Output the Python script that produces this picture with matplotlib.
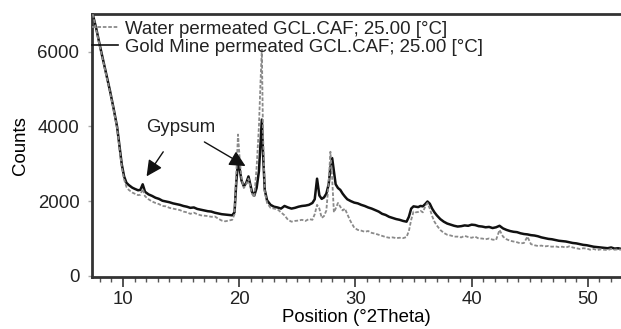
import matplotlib.pyplot as plt
from matplotlib.ticker import MultipleLocator

plt.rcParams['font.family'] = ['Liberation Sans', 'DejaVu Sans']

# -------------------------- data --------------------------
two_theta = [
    7.4, 7.7, 8.0, 8.3, 8.6, 8.9, 9.2,
    9.5, 9.7, 9.9, 10.1, 10.3, 10.5, 10.8,
    11.0, 11.3, 11.5, 11.7, 11.9, 12.2, 12.5,
    12.8, 13.1, 13.4, 13.7, 14.0, 14.3, 14.6,
    14.9, 15.2, 15.5, 15.8, 16.1, 16.4, 16.7,
    17.0, 17.3, 17.6, 17.9, 18.2, 18.5, 18.8,
    19.1, 19.4, 19.6, 19.75, 19.9, 20.05, 20.2,
    20.4, 20.6, 20.8, 20.95, 21.1, 21.3, 21.5,
    21.7, 21.85, 21.95, 22.05, 22.2, 22.4, 22.7,
    23.0, 23.3, 23.6, 23.9, 24.2, 24.5, 24.8,
    25.1, 25.4, 25.7, 26.0, 26.3, 26.5, 26.7,
    26.9, 27.1, 27.3, 27.5, 27.7, 27.85, 28.0,
    28.15, 28.3, 28.5, 28.7, 28.9, 29.1, 29.3,
    29.6, 29.9, 30.2, 30.5, 30.8, 31.1, 31.4,
    31.7, 32.0, 32.3, 32.6, 32.9, 33.2, 33.5,
    33.8, 34.1, 34.4, 34.6, 34.8, 35.0, 35.2,
    35.4, 35.6, 35.8, 36.0, 36.2, 36.4, 36.6,
    36.8, 37.0, 37.3, 37.6, 37.9, 38.2, 38.5,
    38.8, 39.1, 39.4, 39.7, 40.0, 40.3, 40.6,
    40.9, 41.2, 41.5, 41.8, 42.1, 42.4, 42.7,
    43.0, 43.3, 43.6, 43.9, 44.2, 44.5, 44.8,
    45.1, 45.4, 45.7, 46.0, 46.3, 46.6, 46.9,
    47.2, 47.5, 47.8, 48.1, 48.4, 48.7, 49.0,
    49.3, 49.6, 49.9, 50.2, 50.5, 50.8, 51.1,
    51.4, 51.7, 52.0, 52.3, 52.6, 52.9,
]

# Gold Mine permeated GCL (solid black)
counts_gold = [
    7000, 6620, 6180, 5760, 5330, 4930, 4470,
    3980, 3470, 2980, 2660, 2490, 2430, 2360,
    2330, 2290, 2300, 2450, 2250, 2180, 2140,
    2090, 2060, 2010, 1990, 1970, 1940, 1920,
    1900, 1870, 1850, 1820, 1830, 1790, 1770,
    1750, 1730, 1720, 1690, 1670, 1650, 1640,
    1630, 1620, 1700, 2500, 3050, 2850, 2550,
    2400, 2480, 2660, 2450, 2250, 2150, 2350,
    2800, 3600, 4180, 3300, 2300, 2020, 1900,
    1850, 1830, 1800, 1870, 1830, 1800, 1820,
    1850, 1870, 1880, 1900, 1950, 2050, 2600,
    2150, 2060, 2100, 2200, 2450, 2900, 3150,
    2800, 2450, 2350, 2300, 2200, 2120, 2050,
    2000, 1960, 1940, 1900, 1870, 1830, 1800,
    1760, 1720, 1660, 1630, 1580, 1550, 1520,
    1500, 1470, 1450, 1580, 1800, 1860, 1850,
    1840, 1870, 1860, 1920, 1990, 1930, 1800,
    1700, 1620, 1520, 1450, 1400, 1370, 1340,
    1320, 1330, 1350, 1340, 1370, 1360, 1330,
    1320, 1300, 1310, 1280, 1300, 1340, 1270,
    1230, 1200, 1180, 1170, 1140, 1120, 1110,
    1090, 1080, 1060, 1030, 1010, 990, 980,
    960, 940, 930, 920, 900, 880, 870,
    850, 830, 820, 800, 780, 770, 760,
    750, 740, 760, 730, 740, 720,
]

# Water permeated GCL (dashed grey)
counts_water = [
    7000, 6600, 6150, 5740, 5310, 4900, 4440,
    3950, 3420, 2920, 2580, 2380, 2300, 2230,
    2200, 2160, 2170, 2330, 2130, 2050, 1990,
    1950, 1920, 1870, 1860, 1820, 1800, 1780,
    1760, 1720, 1700, 1660, 1690, 1650, 1620,
    1610, 1600, 1580, 1590, 1530, 1480, 1460,
    1480, 1500, 1650, 2700, 3780, 3100, 2600,
    2350, 2450, 2600, 2400, 2200, 2100, 2900,
    4000, 5300, 6050, 3800, 2250, 1950, 1820,
    1800, 1780, 1700, 1620, 1500, 1450, 1470,
    1480, 1500, 1470, 1520, 1500, 1650, 1900,
    1800, 1550, 1600, 1750, 2500, 3320, 2600,
    1700, 1800, 1950, 1850, 1750, 1800, 1650,
    1450, 1290, 1230, 1210, 1180, 1200, 1150,
    1130, 1100, 1070, 1040, 1020, 1030, 1010,
    1020, 1010, 1040, 1200, 1500, 1720, 1700,
    1710, 1740, 1700, 1850, 1950, 1800, 1600,
    1450, 1350, 1230, 1150, 1100, 1080, 1050,
    1050, 1030, 1070, 1040, 1020, 1050, 1000,
    1000, 980, 1000, 970, 960, 1230, 1050,
    980, 940, 920, 900, 870, 880, 1050,
    850, 820, 800, 810, 790, 800, 780,
    790, 770, 780, 760, 790, 760, 740,
    720, 740, 730, 700, 720, 690, 710,
    700, 690, 720, 700, 710, 700,
]

series_labels = ['Water permeated GCL.CAF; 25.00 [°C]',
                 'Gold Mine permeated GCL.CAF; 25.00 [°C]']

# -------------------------- plot --------------------------
fs = 13.4
fig = plt.figure(figsize=(6.21, 3.29), dpi=100)
ax = fig.add_axes([0.148, 0.158, 0.852, 0.799])

ax.plot(two_theta, counts_water, color='#8a8a8a', lw=1.3, ls=(0, (2, 1)),
        label=series_labels[0], zorder=3)
ax.plot(two_theta, counts_gold, color='#111111', lw=1.8,
        label=series_labels[1], zorder=2)

ax.set_xlim(7.33, 52.85)
ax.set_ylim(-30, 7000)
ax.set_yticks([0, 2000, 4000, 6000])
ax.set_xticks([10, 20, 30, 40, 50])
ax.xaxis.set_minor_locator(MultipleLocator(1))

ax.set_xlabel('Position (°2Theta)', fontsize=fs, labelpad=1)
ax.set_ylabel('Counts', fontsize=fs, labelpad=6)
ax.tick_params(axis='x', which='major', length=7, width=1.2, colors='#333333',
               labelsize=fs, pad=3, labelcolor='#222222')
ax.tick_params(axis='x', which='minor', length=3.5, width=1.0, colors='#555555')
ax.tick_params(axis='y', which='major', length=3, width=1.0, colors='#aaaaaa',
               labelsize=fs, pad=6, labelcolor='#222222')

for side in ['left', 'bottom', 'top']:
    ax.spines[side].set_color('#333333')
    ax.spines[side].set_linewidth(2)
ax.spines['right'].set_visible(False)

# gypsum annotations
ax.text(15.0, 3970, 'Gypsum', fontsize=fs, ha='center', va='center', color='#222222')
arrow = dict(arrowstyle='-|>', color='#111111', lw=1.0, mutation_scale=24)
ax.annotate('', xy=(11.9, 2600), xytext=(13.6, 3380), arrowprops=arrow)
ax.annotate('', xy=(20.75, 2900), xytext=(16.8, 3620), arrowprops=arrow)

leg = ax.legend(loc='upper left', bbox_to_anchor=(0.0, 0.975), frameon=False,
                borderaxespad=0, borderpad=0, handlelength=1.4, handletextpad=0.4,
                labelspacing=0.05, fontsize=fs, labelcolor='#222222')
leg.get_lines()[1].set_linewidth(1.2)

fig.savefig('out.png', dpi=100)
